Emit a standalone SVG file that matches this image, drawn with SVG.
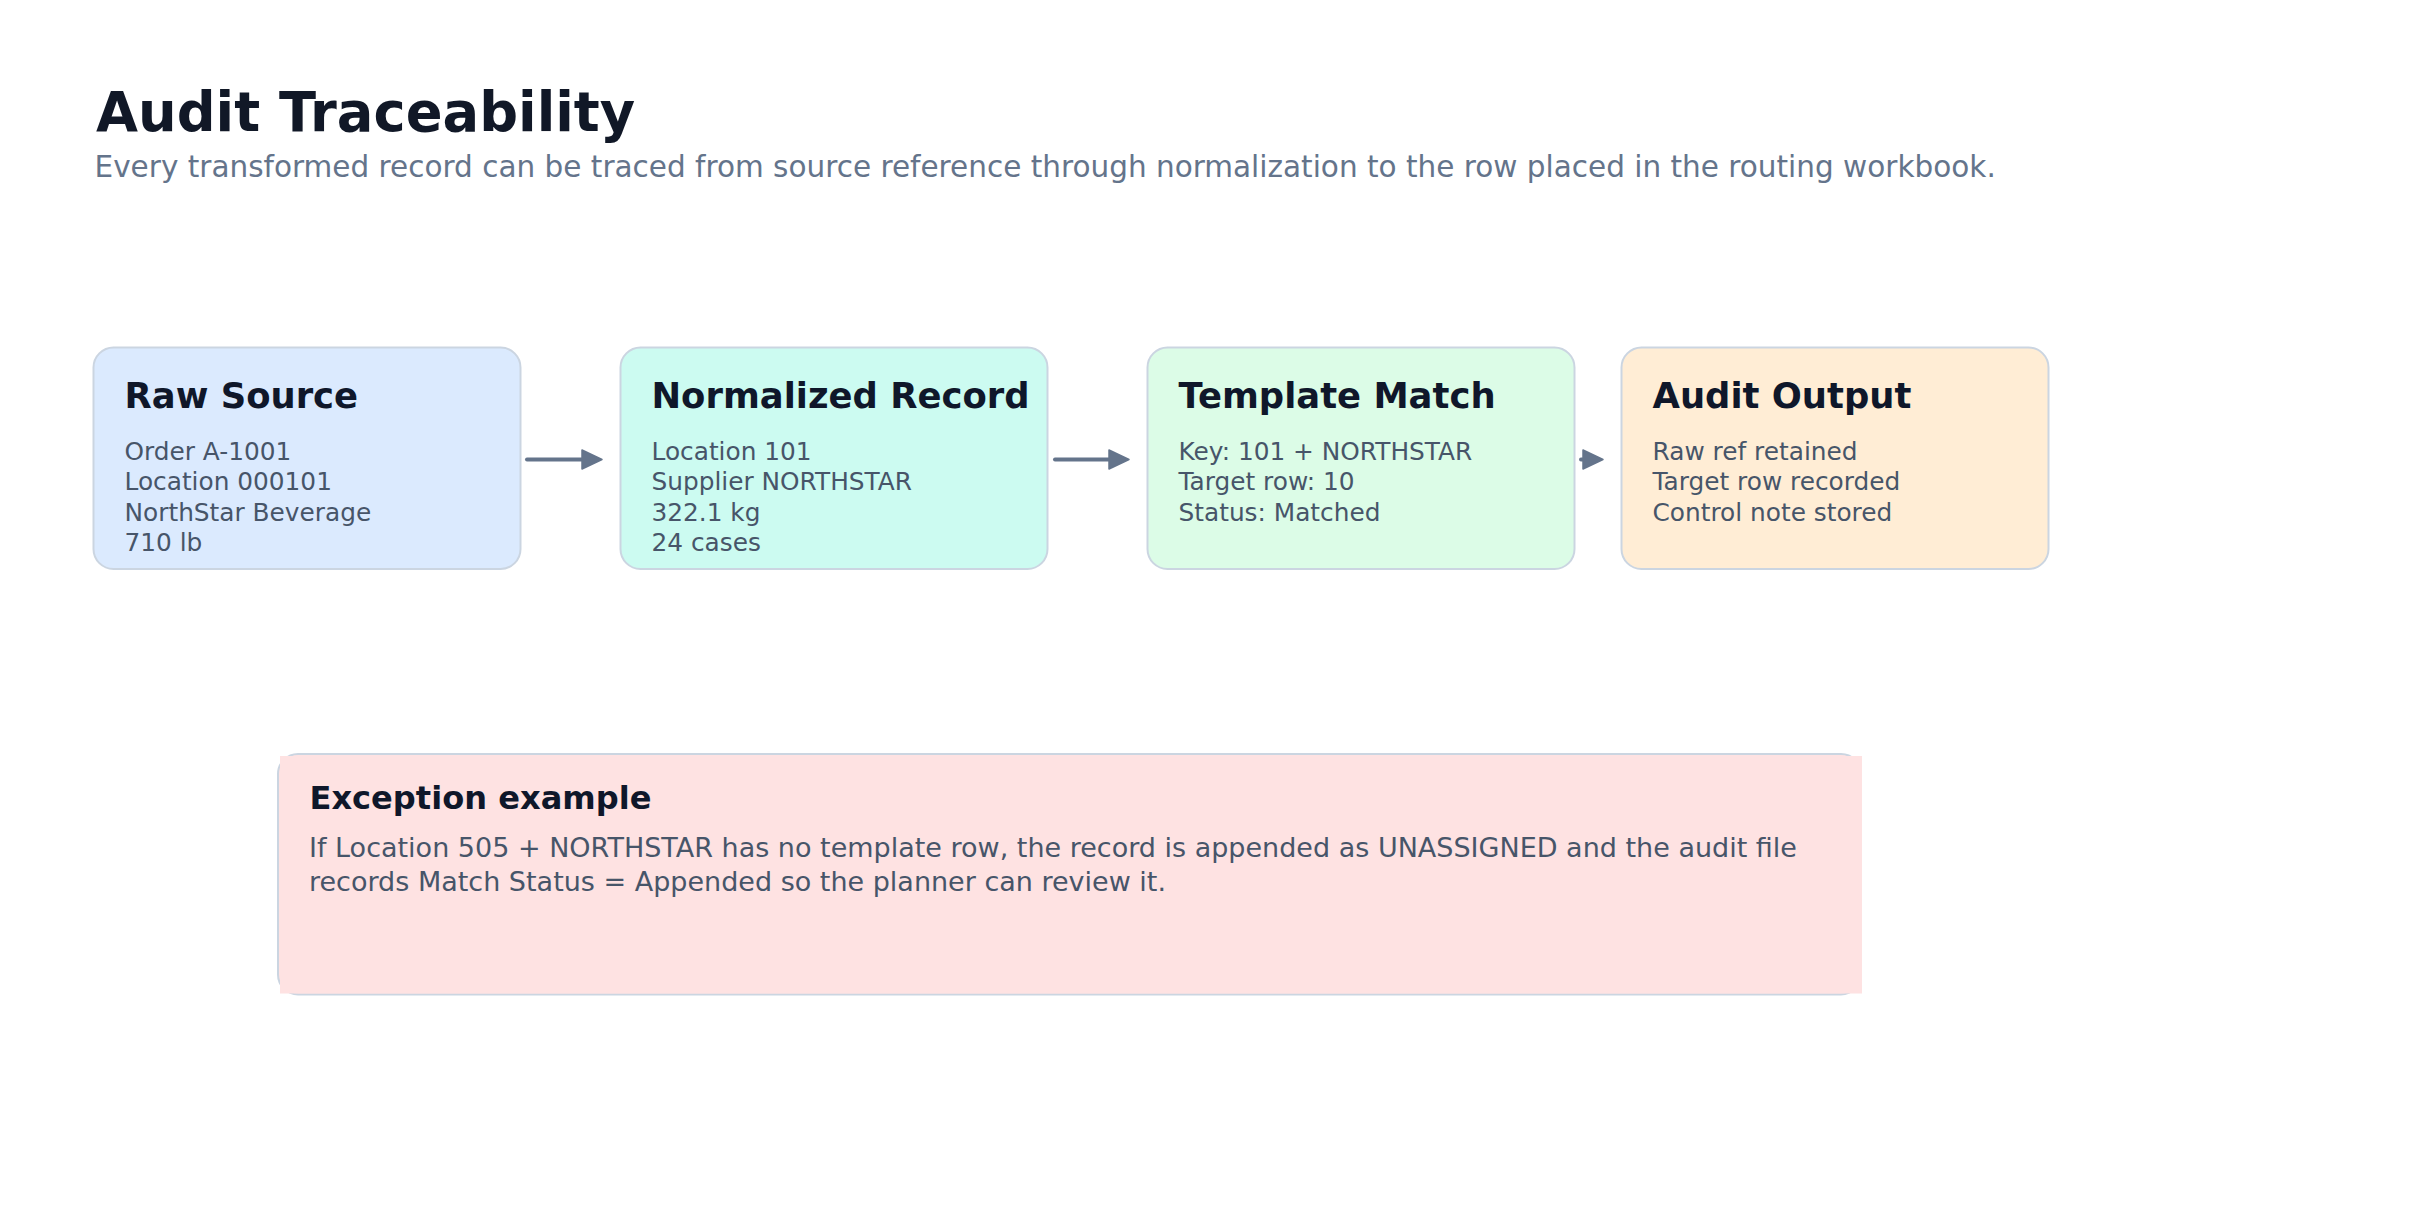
<svg xmlns="http://www.w3.org/2000/svg" width="2411" height="1212" viewBox="0 0 2411 1212">
  <style>
    text { font-family: "DejaVu Sans", "Liberation Sans", sans-serif; }
    .h1 { font-size: 54.3px; font-weight: bold; fill: #111827; }
    .sub { font-size: 29.5px; fill: #64748b; }
    .box { stroke: #cbd5e1; stroke-width: 2; }
    .ttl { font-size: 35.4px; font-weight: bold; fill: #0f172a; }
    .body { font-size: 24.8px; fill: #475569; }
    .conn { stroke: #64748b; stroke-width: 4; fill: none; }
    .head { fill: #64748b; stroke: #64748b; stroke-width: 1.5; stroke-linejoin: round; }
    .etitle { font-size: 32.1px; font-weight: bold; fill: #0f172a; }
    .ebody { font-size: 27px; fill: #475569; }
  </style>
  <rect x="0" y="0" width="2411" height="1212" fill="#ffffff"/>

  <g id="header">
    <text class="h1" x="96" y="131">Audit Traceability</text>
    <text class="sub" x="94.5" y="177">Every transformed record can be traced from source reference through normalization to the row placed in the routing workbook.</text>
  </g>

  <g id="node-raw-source">
    <rect class="box" x="93.5" y="347.5" width="427" height="221.5" rx="20" fill="#dbeafe"/>
    <text class="ttl" x="124.5" y="408">Raw Source</text>
    <text class="body" x="124.5" y="459.5">Order A-1001</text>
    <text class="body" x="124.5" y="490">Location 000101</text>
    <text class="body" x="124.5" y="520.5">NorthStar Beverage</text>
    <text class="body" x="124.5" y="551">710 lb</text>
  </g>

  <g id="node-normalized-record">
    <rect class="box" x="620.5" y="347.5" width="427" height="221.5" rx="20" fill="#ccfbf1"/>
    <text class="ttl" x="651.5" y="408">Normalized Record</text>
    <text class="body" x="651.5" y="459.5">Location 101</text>
    <text class="body" x="651.5" y="490">Supplier NORTHSTAR</text>
    <text class="body" x="651.5" y="520.5">322.1 kg</text>
    <text class="body" x="651.5" y="551">24 cases</text>
  </g>

  <g id="node-template-match">
    <rect class="box" x="1147.5" y="347.5" width="427" height="221.5" rx="20" fill="#dcfce7"/>
    <text class="ttl" x="1178.5" y="408">Template Match</text>
    <text class="body" x="1178.5" y="459.5">Key: 101 + NORTHSTAR</text>
    <text class="body" x="1178.5" y="490">Target row: 10</text>
    <text class="body" x="1178.5" y="520.5">Status: Matched</text>
  </g>

  <g id="node-audit-output">
    <rect class="box" x="1621.5" y="347.5" width="427" height="221.5" rx="20" fill="#ffedd5"/>
    <text class="ttl" x="1652.5" y="408">Audit Output</text>
    <text class="body" x="1652.5" y="459.5">Raw ref retained</text>
    <text class="body" x="1652.5" y="490">Target row recorded</text>
    <text class="body" x="1652.5" y="520.5">Control note stored</text>
  </g>

  <g id="connectors">
    <line class="conn" x1="527" y1="459.5" x2="584" y2="459.5" stroke-linecap="round"/>
    <polygon class="head" points="582,450 602,459.5 582,469"/>
    <line class="conn" x1="1055" y1="459.5" x2="1111" y2="459.5" stroke-linecap="round"/>
    <polygon class="head" points="1109,450 1129,459.5 1109,469"/>
    <line class="conn" x1="1581" y1="459.5" x2="1585" y2="459.5" stroke-linecap="round"/>
    <polygon class="head" points="1583,450 1603,459.5 1583,469"/>
  </g>

  <g id="node-exception-example">
    <rect class="box" x="278" y="754" width="1583" height="240.5" rx="20" fill="#fee2e2"/>
    <rect x="280" y="756" width="1582" height="237.5" fill="#fee2e2"/>
    <text class="etitle" x="309.5" y="808.5">Exception example</text>
    <text class="ebody" x="309" y="857">If Location 505 + NORTHSTAR has no template row, the record is appended as UNASSIGNED and the audit file</text>
    <text class="ebody" x="309" y="890.5">records Match Status = Appended so the planner can review it.</text>
  </g>
</svg>
